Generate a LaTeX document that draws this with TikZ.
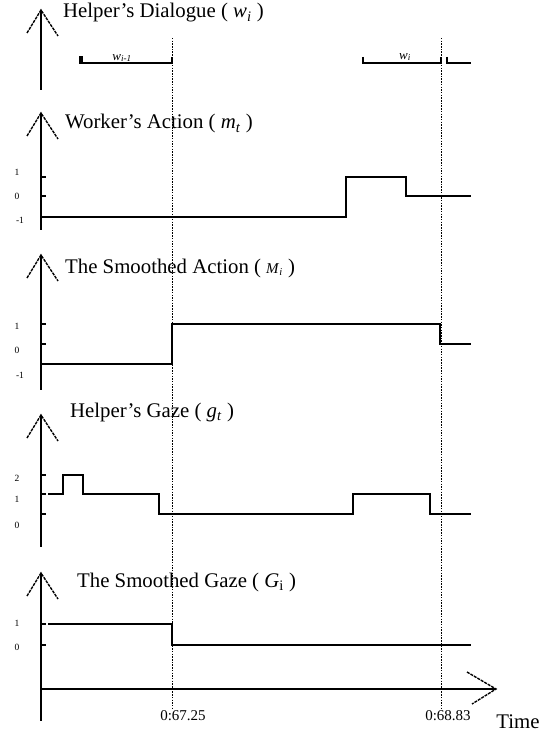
\documentclass[tikz,border=0pt]{standalone}
\usepackage{fontspec}
\setmainfont{Liberation Serif}
\newcommand{\vsub}[2]{\textit{#1}\textsubscript{\textit{#2}}}
% vertical axis with open head: tip y, bottom y
\newcommand{\upaxis}[2]{%
  \draw[axisline] (41,#1) -- (41,#2);
  \draw[wing] (27,#1+23) -- (41,#1) -- (58,#1+26);}

\begin{document}
\begin{tikzpicture}[x=1pt,y=-1pt,line join=miter,
  axisline/.style={line width=1.6pt},
  wing/.style={line width=1.4pt,dash pattern=on 3pt off 1pt},
  signal/.style={line width=1.6pt},
  marker/.style={line width=0.9pt,dash pattern=on 1.5pt off 1.2pt},
  tick/.style={line width=1.4pt},
  title/.style={anchor=base west,inner sep=0pt,font=\fontsize{20.8}{24}\selectfont},
  level/.style={inner sep=0pt,font=\fontsize{9.5}{11}\selectfont},
  stamp/.style={inner sep=0pt,font=\fontsize{15}{18}\selectfont}]
  \useasboundingbox (0,0) rectangle (558,735);

  % time markers
  \coordinate (m1top) at (172,38); \coordinate (m1bot) at (172,710);
  \coordinate (m2top) at (441,38); \coordinate (m2bot) at (441,710);
  \draw[marker] (m1top) -- (m1bot);
  \draw[marker] (m2top) -- (m2bot);

  % axes
  \upaxis{10}{90} \upaxis{113}{230} \upaxis{255}{390} \upaxis{415}{547} \upaxis{573}{721}
  \coordinate (t0) at (41,689); \coordinate (tend) at (496,689);
  \draw[axisline] (t0) -- (tend);
  \draw[wing] (467,672) -- (tend) -- (472,704);

  % titles
  \node[title] (dlg) at (63,18) {Helper’s Dialogue ( \vsub{w}{i} )};
  \node[title] (act) at (65,129) {Worker’s Action ( \vsub{m}{t} )};
  \node[title] (sact) at (65,273) {The Smoothed Action ( {\fontsize{15}{18}\selectfont\vsub{M}{i}} )};
  \node[title] (gaze) at (70,417) {Helper’s Gaze ( \vsub{g}{t} )};
  \node[title] (sgaze) at (77,587) {The Smoothed Gaze ( \textit{G}\textsubscript{i} )};

  % helper's dialogue
  \draw[signal] (80,57) -- (80,63) -- (172,63) -- (172,57);
  \fill (78.5,56.5) rectangle (82.5,64);
  \draw[signal] (363,57) -- (363,63) -- (441,63) -- (441,57);
  \draw[signal] (447,57) -- (447,63) -- (471,63);
  \node[inner sep=0pt,font=\fontsize{13}{15}\selectfont] (wprev) at (122,58) {\vsub{w}{i-1}};
  \node[inner sep=0pt,font=\fontsize{13}{15}\selectfont] (wcur) at (405,57) {\vsub{w}{i}};

  % worker's action
  \draw[tick] (41,177) -- (46,177); \draw[tick] (41,196) -- (46,196);
  \node[level] (a1) at (17,172) {1}; \node[level] (a0) at (17,196) {0}; \node[level] (am) at (20,220) {-1};
  \draw[signal] (41,217) -- (346,217) -- (346,177) -- (406,177) -- (406,196) -- (471,196);

  % smoothed action
  \draw[tick] (41,324) -- (46,324); \draw[tick] (41,344) -- (46,344);
  \node[level] (b1) at (17,326) {1}; \node[level] (b0) at (17,350) {0}; \node[level] (bm) at (20,375) {-1};
  \draw[signal] (41,364) -- (172,364) -- (172,324) -- (440,324) -- (440,344) -- (471,344);

  % helper's gaze
  \draw[tick] (41,475) -- (46,475); \draw[tick] (41,494) -- (46,494); \draw[tick] (41,514) -- (46,514);
  \node[level] (c2) at (17,478) {2}; \node[level] (c1) at (17,499) {1}; \node[level] (c0) at (17,525) {0};
  \draw[signal] (48,494) -- (63,494) -- (63,475) -- (83,475) -- (83,494) -- (159,494) -- (159,514)
    -- (353,514) -- (353,494) -- (430,494) -- (430,514) -- (471,514);

  % smoothed gaze
  \draw[tick] (41,624) -- (46,624); \draw[tick] (41,645) -- (46,645);
  \node[level] (d1) at (17,623) {1}; \node[level] (d0) at (17,647) {0};
  \draw[signal] (48,624) -- (172,624) -- (172,645) -- (471,645);

  % time labels
  \node[stamp] (s1) at (183,716) {0:67.25};
  \node[stamp] (s2) at (448,716) {0:68.83};
  \node[inner sep=0pt,font=\fontsize{20.8}{24}\selectfont] (time) at (518,722) {Time};
\end{tikzpicture}
\end{document}
